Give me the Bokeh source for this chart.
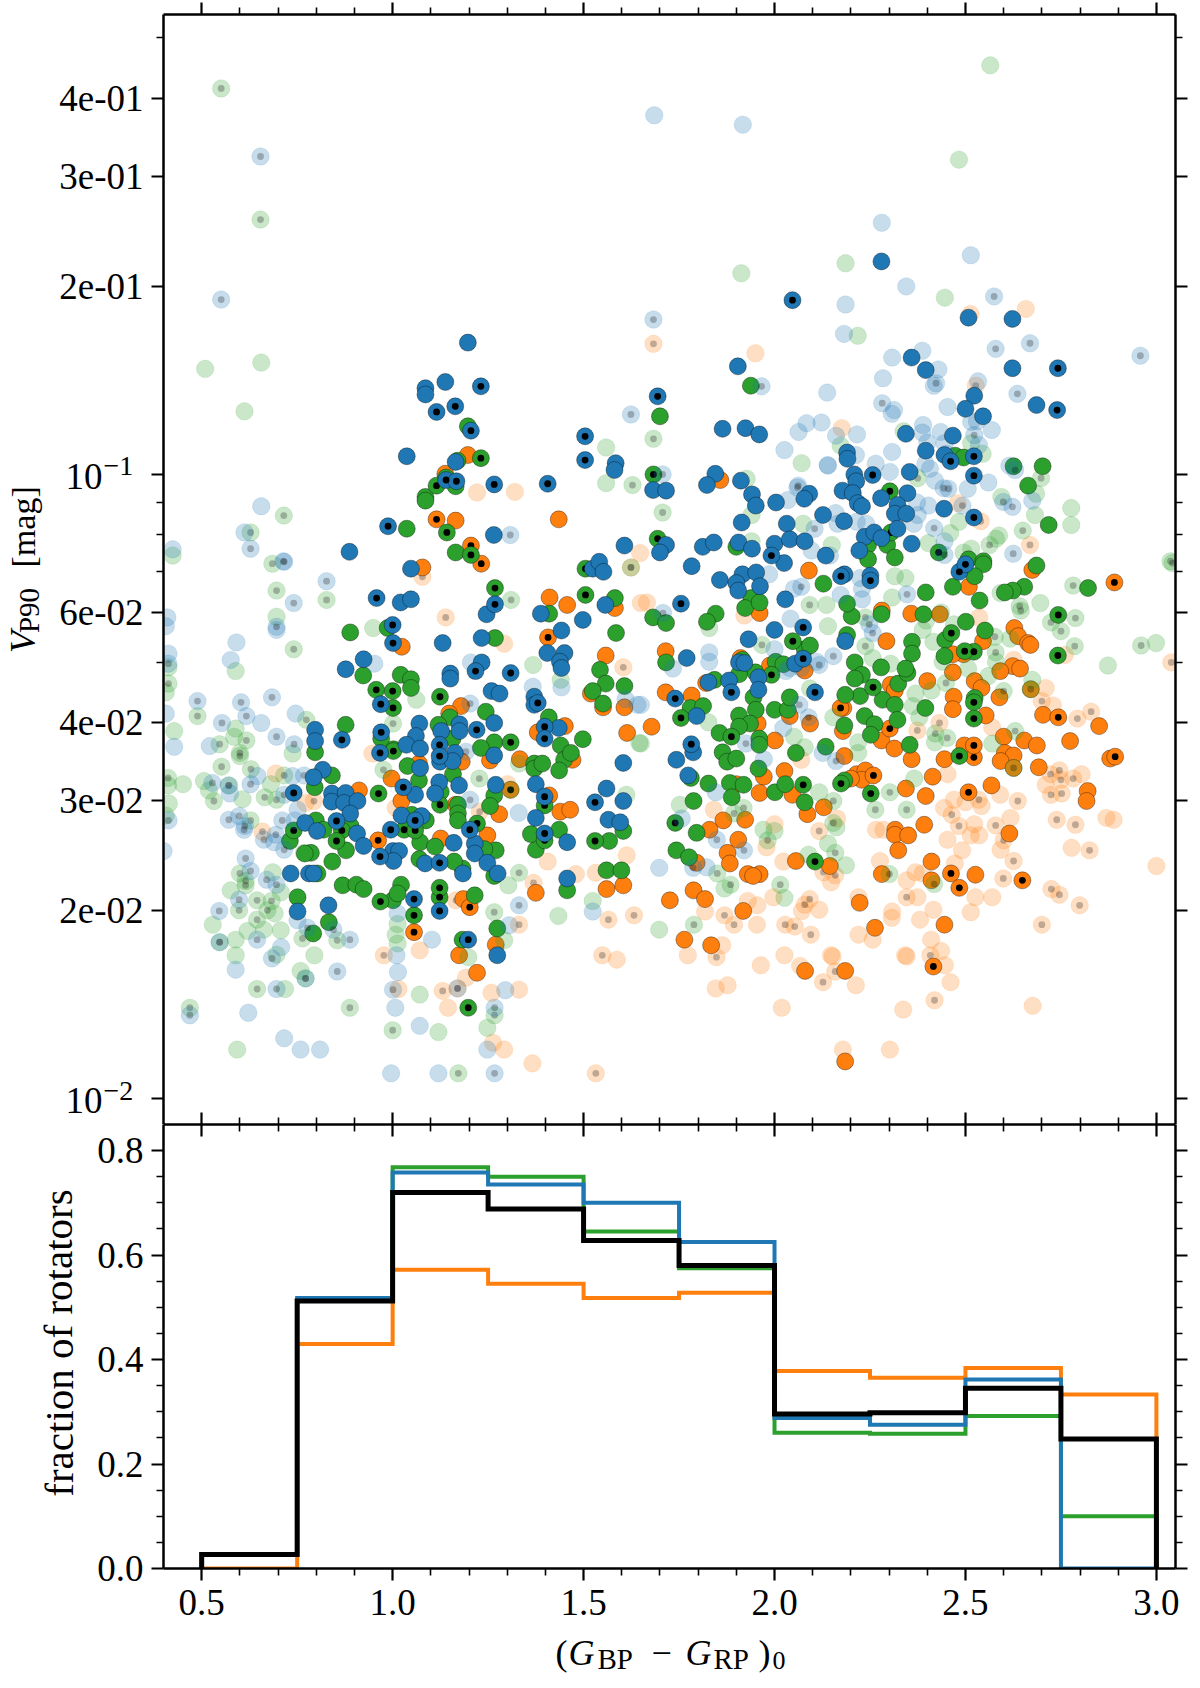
from bokeh.embed import file_html
from bokeh.resources import INLINE
from bokeh.plotting import figure
from bokeh.layouts import column, row
from bokeh.models import (FixedTicker, Range1d, LinearAxis, LogAxis, Label,
                          CustomJSTickFormatter, ColumnDataSource)

# each pair: (colour (G_BP-G_RP)_0, log10 V_P90)
blue_solid = [(1.197,-.789),(1.086,-.862),(1.086,-.872),(1.138,-.852),(1.037,-.971),(1.165,-.98),(1.265,-1.097),(.887,-1.124),
(2.28,-.659),(2.508,-.749),(2.623,-.751),(2.359,-.813),(1.904,-.827),(2.396,-.833),(2.623,-.83),(2.523,-.874),(2.686,-.889),(2.5,-.895),(2.546,-.907),(1.864,-.927),(1.924,-.926),(1.96,-.936),(2.344,-.935),(2.467,-.938),(2.19,-.965),(2.191,-.975),(2.396,-.962),(2.445,-.969),(1.584,-.982),(1.581,-.993),(1.845,-.999),(1.823,-1.017),(1.912,-1.01),(1.682,-1.025),(1.716,-1.026),(2.209,-1.0),(2.214,-1.011),(2.354,-.996),(2.091,-1.031),(2.078,-1.039),(1.941,-1.032),(1.951,-1.05),(2.004,-1.045),(2.178,-1.026),(2.205,-1.03),(2.218,-1.046),(2.229,-1.051),(2.279,-1.038),(2.348,-1.03),(2.322,-1.049),(2.315,-1.063),(2.345,-1.063),(2.444,-1.055),(1.914,-1.077),(2.032,-1.079),(2.127,-1.065),(2.182,-1.075),(1.716,-1.113),(1.7,-1.125),(1.607,-1.114),(1.812,-1.116),(1.841,-1.109),(1.906,-1.109),(1.941,-1.119),(2.0,-1.111),(2.04,-1.104),(2.079,-1.107),(2.025,-1.142),(2.134,-1.13),(2.236,-1.1),(2.261,-1.093),(2.28,-1.102),(2.322,-1.087),(2.222,-1.122),(2.359,-1.111),
(1.048,-1.151),(1.246,-1.224),(1.021,-1.205),(1.048,-1.2),(1.131,-1.27),(1.233,-1.262),(.797,-1.409),(.797,-1.427),(.817,-1.473),(.793,-1.485),(.841,-1.511),(.877,-1.51),(.84,-1.524),(.873,-1.526),(.908,-1.523),(.889,-1.543),(.771,-1.558),(.802,-1.571),(.907,-1.575),(.924,-1.595),(.733,-1.639),(.781,-1.639),(.793,-1.639),(.832,-1.69),(.751,-1.7),
(1.274,-1.77),(1.457,-1.647),(1.457,-1.589),(1.375,-1.55),(1.56,-1.503),(1.604,-1.523),(1.565,-1.553),(1.596,-1.557),(1.375,-1.496),(1.059,-1.513),(1.072,-1.47),(.924,-1.296),(.877,-1.312),(1.07,-1.399),(1.061,-1.419),(1.036,-1.433),(1.072,-1.439),(1.127,-1.411),(1.124,-1.46),(1.175,-1.4),(1.175,-1.411),(1.163,-1.446),(1.157,-1.459),(1.266,-1.398),(1.266,-1.45),(1.122,-1.493),(1.174,-1.498),(1.111,-1.511),(1.023,-1.546),(1.076,-1.547),(1.001,-1.603),(1.017,-1.603),(1.002,-1.619),(1.16,-1.59),(1.27,-1.497),(1.215,-1.591),(1.215,-1.607),(1.248,-1.622),(1.275,-1.639),(1.184,-1.639),(1.085,-1.623),
(1.557,-1.209),(1.388,-1.223),(1.498,-1.233),(1.442,-1.25),(1.405,-1.286),(1.45,-1.286),(1.438,-1.3),(1.442,-1.31),(1.233,-1.301),(1.151,-1.319),(1.151,-1.327),(1.259,-1.347),(1.28,-1.351),(1.371,-1.356),(1.371,-1.369),(1.435,-1.406),(1.604,-1.462),(1.524,-1.151),(1.541,-1.14),(1.552,-1.156),
(1.783,-1.147),(1.857,-1.169),(1.916,-1.16),(1.952,-1.157),(1.9,-1.174),(1.905,-1.186),(1.962,-1.179),(2.028,-1.2),(2.0,-1.249),(1.932,-1.264),(2.054,-1.303),(1.77,-1.294),(1.907,-1.301),(1.921,-1.302),(1.958,-1.325),(1.958,-1.345),(1.827,-1.333),(1.881,-1.33),(1.796,-1.387),(1.787,-1.445),(1.743,-1.457),(1.774,-1.482),(2.183,-1.16),(2.251,-1.162),(2.185,-1.267)]
blue_dotted = [(1.231,-.859),(1.164,-.891),(1.115,-.9),(1.205,-.93),(1.504,-.939),(1.504,-.977),(1.14,-1.009),(1.167,-1.011),(1.266,-1.016),(1.406,-1.015),(.988,-1.083),
(2.047,-.721),(2.742,-.83),(1.694,-.875),(2.74,-.897),(2.461,-.979),(2.522,-.971),(2.257,-1.001),(2.522,-1.002),(2.522,-1.069),(1.992,-1.13),
(1.268,-1.208),(.958,-1.198),(1.0,-1.241),(1.001,-1.27),(.867,-1.425),(.741,-1.51),(.853,-1.555),(.97,-1.413),(.967,-1.446),(1.056,-1.68),(1.123,-1.699),(1.198,-1.745),(1.398,-1.575),(1.53,-1.525),(1.398,-1.516),(1.028,-1.501),(.969,-1.368),(1.123,-1.433),(1.123,-1.451),(1.22,-1.409),(1.059,-1.554),(.995,-1.569),(.967,-1.612),(1.202,-1.569),(1.123,-1.622),(1.217,-1.315),(1.309,-1.318),(1.38,-1.366),(1.398,-1.404),(1.398,-1.423),
(1.755,-1.207),(2.075,-1.245),(2.075,-1.295),(1.887,-1.349),(1.74,-1.359),(1.782,-1.432),(2.106,-1.349),(2.174,-1.163),(2.251,-1.17),(2.484,-1.156),(2.5,-1.144)]
blue_faint = [(1.685,-.425),(1.917,-.44),(2.281,-.597),(2.514,-.649),(2.345,-.699),(2.186,-.728),(2.182,-.775),(2.387,-.802),(2.308,-.813),(2.429,-.832),(2.284,-.846),(2.417,-.858),(2.533,-.851),(2.138,-.869),(2.453,-.892),(2.313,-.897),(2.307,-.903),(2.123,-.917),(2.084,-.918),(2.515,-.916),(2.53,-.915),(2.389,-.921),(2.063,-.932),(2.569,-.929),(2.161,-.938),(2.216,-.936),(2.387,-.933),(2.435,-.932),(2.026,-.961),(2.4,-.949),(2.213,-.969),(2.308,-.964),(2.445,-.95),(2.535,-.953),(2.45,-.967),(2.139,-.985),(2.14,-.986),(2.265,-.983),(2.302,-.996),(2.395,-.983),(2.407,-.991),(2.035,-1.041),(2.373,-1.045),(2.403,-1.05),(2.42,-1.01),(2.506,-1.023),(2.56,-1.013),(2.615,-.986),(2.675,-1.042),(2.16,-1.062),(2.165,-1.079),(2.215,-1.076),(2.24,-1.079),(2.445,-1.107),(2.097,-1.122),(2.365,-1.079),(2.375,-1.065),(2.145,-1.13),
(.656,-1.051),(.612,-1.093),(.424,-1.12),
(.591,-1.269),(.576,-1.297),(.41,-1.229),(.406,-1.243),(.413,-1.287),(.406,-1.383),(.428,-1.436),(.952,-1.303),(.696,-1.249),(.656,-1.398),(.746,-1.383),(.521,-1.435),(.646,-1.483),(.738,-1.483),(.574,-1.511),(.4,-1.603),(.69,-1.589),(.751,-1.537),(.744,-1.554),(.751,-1.714),(.708,-1.757),(.589,-1.793),(.622,-1.862),(.716,-1.903),(.759,-1.921),(.81,-1.921),(.996,-1.959),(1.12,-1.959),(1.248,-1.921),(1.071,-1.883),(1.007,-1.854),(1.295,-1.826),(1.014,-1.797),(1.01,-1.77),(1.103,-1.745),(1.013,-1.703),(1.305,-1.722),(1.524,-1.7),(1.33,-1.542),(1.205,-1.301),(1.367,-1.34),(1.442,-1.341),(1.61,-1.36),(1.641,-1.369),
(1.65,-1.369),(1.986,-1.16),(1.829,-1.285),(1.829,-1.3),(1.734,-1.311),(2.042,-1.231),(2.0,-1.28),(1.972,-1.456),(1.846,-1.509),(1.757,-1.551),(1.698,-1.63),(1.822,-1.629),(2.224,-1.166),(2.229,-1.183),(2.229,-1.2),(2.051,-1.183),(2.173,-1.193),(2.126,-1.446),(2.023,-1.406),(2.04,-1.31),(2.11,-1.3),(2.07,-1.31),(2.03,-1.315)]
blue_faint_dotted = [(.654,-.491),(.551,-.72),(1.308,-1.097),(.628,-1.119),
(2.575,-.715),(1.683,-.752),(2.669,-.79),(2.579,-.799),(2.958,-.81),(2.423,-.854),(1.966,-.859),(2.636,-.871),(2.282,-.886),(1.624,-.904),(2.523,-.937),(1.707,-1.0),(2.06,-1.021),(2.062,-1.018),(2.443,-1.022),(2.455,-1.023),(2.492,-1.05),(2.63,-.993),(2.599,-1.044),(2.623,-1.052),(2.418,-1.086),(2.105,-1.087),(2.625,-1.127),(2.445,-1.129),(.714,-1.139),
(.716,-1.14),(.741,-1.206),(.827,-1.171),(.696,-1.244),(.489,-1.363),(.603,-1.365),(.617,-1.387),(.684,-1.357),(.553,-1.398),(.696,-1.42),(.742,-1.432),(.768,-1.482),(.628,-1.496),(.57,-1.498),(.528,-1.494),(.716,-1.513),(.413,-1.303),(.413,-1.554),(.571,-1.553),(.598,-1.547),(.613,-1.563),(.611,-1.569),(.663,-1.585),(.694,-1.577),(.711,-1.554),(.716,-1.601),(.615,-1.615),(.628,-1.635),(.67,-1.649),(.696,-1.657),(.598,-1.681),(.546,-1.699),(.645,-1.745),(.547,-1.749),(.684,-1.775),(.845,-1.729),(.777,-1.726),(.888,-1.745),(.772,-1.807),(.855,-1.796),(.696,-1.824),(.469,-1.866),(1.267,-1.959),(1.267,-1.854),(1.001,-1.825),(1.17,-1.823),(1.331,-1.69),(1.203,-1.367),(1.192,-1.444),(1.203,-1.521),
(1.708,-1.222),(1.925,-1.431),(1.849,-1.585),(1.92,-1.602),(1.787,-1.63),(2.07,-1.18),(2.154,-1.291),(2.117,-1.305),(2.065,-1.369),(2.089,-1.389),(2.161,-1.459),(2.248,-1.24),(2.257,-1.254),(2.347,-1.192)]
green_solid = [(1.197,-.923),(1.17,-.978),(1.14,-1.005),(1.165,-1.019),(1.086,-1.036),(1.086,-1.042),(1.037,-1.087),(1.165,-1.125),
(1.938,-.858),(1.7,-.907),(2.473,-.97),(2.495,-.973),(2.626,-.987),(2.702,-.987),(2.664,-1.018),(2.718,-1.081),(1.9,-1.116),(2.295,-1.113),(2.245,-1.113),(2.315,-1.133),(2.245,-1.136),(2.508,-1.136),(2.547,-1.139),
(1.268,-1.262),(.987,-1.246),(.889,-1.253),(.797,-1.445),(.877,-1.401),(.841,-1.482),(.796,-1.501),(.799,-1.554),(.819,-1.569),(.89,-1.563),(.878,-1.602),(.842,-1.62),(.786,-1.606),(.77,-1.607),(.803,-1.639),(.869,-1.658),(.905,-1.657),(.924,-1.664),(.751,-1.677),(.833,-1.717),(.792,-1.735),(.731,-1.587),
(1.001,-1.682),(1.022,-1.657),(1.013,-1.671),(1.215,-1.674),(1.274,-1.727),(1.457,-1.666),(1.56,-1.634),(1.599,-1.634),(1.567,-1.587),(1.375,-1.601),(1.362,-1.576),(1.436,-1.569),(1.604,-1.571),(1.371,-1.463),(1.371,-1.471),(1.392,-1.463),(1.069,-1.49),(1.039,-1.467),(1.002,-1.44),(.97,-1.423),(1.021,-1.321),(1.048,-1.328),(1.048,-1.342),(.923,-1.322),(1.15,-1.389),(1.12,-1.401),(1.157,-1.423),(1.244,-1.38),(1.266,-1.429),(1.231,-1.438),(1.158,-1.48),(1.126,-1.508),(1.087,-1.554),(1.05,-1.545),(1.072,-1.589),(1.111,-1.596),(1.171,-1.529),(1.171,-1.543),(1.171,-1.554),(1.266,-1.514),(1.255,-1.531),(1.27,-1.602),(1.24,-1.6),(1.266,-1.643),(1.183,-1.631),(1.161,-1.62),(1.07,-1.616),
(1.582,-1.198),(1.41,-1.223),(1.585,-1.254),(1.543,-1.313),(1.558,-1.335),(1.607,-1.339),(1.524,-1.347),(1.551,-1.367),(1.409,-1.389),(1.498,-1.424),(1.44,-1.434),(1.449,-1.457),(1.467,-1.446),(1.436,-1.474),
(1.682,-1.229),(1.716,-1.238),(1.846,-1.223),(1.823,-1.236),(1.939,-1.198),(1.923,-1.214),(1.961,-1.205),(2.079,-1.28),(2.093,-1.274),(1.716,-1.301),(1.916,-1.297),(2.003,-1.3),(2.023,-1.304),(1.95,-1.317),(1.907,-1.32),(1.843,-1.329),(1.78,-1.374),(1.813,-1.371),(1.945,-1.357),(2.0,-1.377),(2.035,-1.377),(1.951,-1.377),(1.907,-1.386),(1.936,-1.399),(1.907,-1.404),(1.856,-1.414),(1.864,-1.445),(1.876,-1.46),(1.9,-1.455),(1.96,-1.423),(1.96,-1.433),(2.056,-1.446),(2.134,-1.436),(1.958,-1.471),(1.781,-1.486),(1.827,-1.495),(1.883,-1.494),(1.919,-1.497),(1.888,-1.517),(2.001,-1.509),(2.028,-1.496),(1.788,-1.523),(2.079,-1.525),(1.796,-1.574),(1.743,-1.602),(1.776,-1.613),
(2.396,-1.189),(2.467,-1.18),(2.537,-1.202),(2.547,-1.144),(2.524,-1.163),(2.39,-1.224),(2.501,-1.236),(2.447,-1.265),(2.551,-1.25),(2.36,-1.268),(2.36,-1.287),(2.28,-1.224),(2.202,-1.227),(2.19,-1.207),(2.19,-1.257),(2.128,-1.175),(2.686,-1.146),(2.654,-1.18),(2.624,-1.186),(2.603,-1.189),(2.821,-1.182),(2.445,-1.291),(2.524,-1.358),(2.395,-1.374),(2.324,-1.335),(2.348,-1.318),(2.343,-1.311),(2.279,-1.309),(2.21,-1.301),(2.229,-1.321),(2.224,-1.355),(2.185,-1.353),(2.04,-1.357),(2.183,-1.402),(2.236,-1.387),(2.262,-1.4),(2.252,-1.417),(2.283,-1.361),(2.315,-1.369),(2.322,-1.393),(2.354,-1.433),(2.21,-1.327),(2.183,-1.49)]
green_dotted = [(1.231,-.974),(1.115,-1.018),(1.142,-1.093),(1.205,-1.129),
(1.683,-1.0),(2.302,-1.027),(1.694,-1.103),(2.305,-1.093),(2.43,-1.125),
(1.268,-1.182),(.741,-1.57),(.867,-1.57),(.853,-1.587),(.968,-1.684),(1.056,-1.706),(1.123,-1.677),(1.123,-1.662),(1.198,-1.854),(1.183,-1.745),(1.53,-1.587),(1.398,-1.586),(1.398,-1.53),(.963,-1.511),(1.002,-1.443),(1.001,-1.374),(.957,-1.345),(1.0,-1.347),(1.124,-1.356),(1.309,-1.429),(1.124,-1.529),(1.03,-1.569),(1.059,-1.57),(1.221,-1.559),(1.505,-1.193),(1.505,-1.151),
(2.048,-1.267),(1.992,-1.321),(1.755,-1.39),(1.887,-1.42),(2.075,-1.497),(1.74,-1.558),(2.252,-1.511),(2.106,-1.62),(2.484,-1.451),(2.522,-1.284),(2.498,-1.283),(2.522,-1.365),(2.522,-1.391),(2.258,-1.341),(2.174,-1.495),(2.743,-1.225),(2.742,-1.29),(2.463,-1.254)]
green_faint = [(.509,-.831),(.656,-.821),(.612,-.899),(.424,-1.13),
(2.565,-.345),(2.483,-.496),(2.186,-.662),(1.913,-.678),(2.446,-.717),(2.218,-.778),(2.338,-.931),(1.559,-.957),(2.173,-.954),(2.515,-.95),(2.071,-.982),(1.927,-1.007),(1.559,-1.014),(2.545,-.967),(2.685,-1.031),(2.594,-1.036),(2.777,-1.054),(2.777,-1.081),(2.682,-1.065),(2.483,-1.076),(2.46,-1.094),(2.588,-1.098),(2.58,-1.103),(1.94,-1.065),(2.075,-1.079),(1.94,-1.107),(2.15,-1.113),(2.403,-1.11),(2.495,-1.125),(2.515,-1.119),
(.949,-1.246),(.589,-1.315),(.696,-1.228),(.413,-1.309),(.406,-1.349),(.428,-1.411),(.738,-1.447),(.589,-1.407),(.585,-1.42),(.412,-1.498),(.414,-1.527),(.681,-1.496),(.506,-1.491),(.519,-1.506),(.607,-1.52),(.451,-1.496),(.406,-1.546),(1.062,-1.361),
(.576,-1.666),(.686,-1.637),(.707,-1.669),(.691,-1.703),(.529,-1.721),(.62,-1.731),(.663,-1.729),(.707,-1.73),(.589,-1.745),(.589,-1.77),(.696,-1.769),(.795,-1.77),(.759,-1.795),(.718,-1.824),(.593,-1.921),(1.248,-1.886),(1.12,-1.893),(1.071,-1.833),(1.013,-1.751),(1.008,-1.737),(1.013,-1.72),(1.303,-1.658),(1.292,-1.746),(1.198,-1.773),(1.524,-1.683),(1.434,-1.707),(1.368,-1.305),(1.44,-1.329),(1.612,-1.513),(1.331,-1.463),(1.646,-1.43),
(1.65,-1.431),(1.829,-1.246),(1.827,-1.397),(1.752,-1.529),(1.869,-1.663),(1.698,-1.729),(2.026,-1.678),(2.089,-1.609),(2.187,-1.626),(2.14,-1.591),(1.971,-1.569),(2.0,-1.571),(2.162,-1.565),(2.117,-1.509),(2.366,-1.487),(2.675,-1.329),(2.56,-1.323),(2.617,-1.263),(2.696,-1.206),(2.999,-1.27),(2.873,-1.306),(2.57,-1.431),(2.42,-1.429),(2.379,-1.389),(2.362,-1.371),(2.369,-1.351),(2.411,-1.346),(2.507,-1.311),(2.136,-1.209),(2.315,-1.163),(2.343,-1.166),(2.592,-1.19),(2.14,-1.243),(2.397,-1.234),(2.388,-1.249),(2.416,-1.268),(2.436,-1.221),(2.308,-1.197),(2.257,-1.294),(2.304,-1.303),(2.093,-1.343),(2.154,-1.389),(2.051,-1.42),(2.079,-1.437),(2.219,-1.429),(2.219,-1.446),(2.44,-1.3),(2.47,-1.24),(2.58,-1.3)]
green_faint_dotted = [(.551,-.382),(.654,-.592),(.715,-1.066),(.628,-1.093),
(1.683,-.943),(1.628,-1.017),(2.375,-1.006),(2.698,-1.006),(2.65,-1.09),(2.563,-1.113),(1.707,-1.061),(3.037,-1.139),
(.696,-1.186),(.827,-1.201),(.685,-1.143),(.741,-1.28),(.413,-1.335),(.489,-1.387),(.774,-1.393),(.617,-1.426),(.547,-1.432),(.6,-1.446),(.6,-1.451),(.552,-1.468),(.629,-1.472),(.716,-1.482),(.572,-1.498),(.532,-1.523),(.665,-1.517),(.696,-1.521),(.412,-1.486),(.628,-1.554),(.768,-1.606),(.6,-1.639),(.615,-1.651),(.615,-1.658),(.598,-1.698),(.645,-1.682),(.683,-1.683),(.672,-1.698),(.645,-1.713),(.547,-1.749),(.764,-1.743),(.855,-1.746),(.772,-1.807),(.645,-1.824),(.469,-1.854),(.888,-1.854),(1.172,-1.959),(1.267,-1.866),(1.0,-1.89),(1.266,-1.701),(1.331,-1.638),(.976,-1.473),(1.001,-1.399),(1.227,-1.487),(1.31,-1.201),(1.624,-1.149),(1.309,-1.505),
(1.967,-1.273),(1.894,-1.543),(1.919,-1.534),(1.85,-1.639),(1.885,-1.657),(1.789,-1.721),(2.015,-1.657),(2.159,-1.606),(1.982,-1.586),(2.154,-1.558),(2.154,-1.523),(2.302,-1.509),(2.346,-1.537),(2.264,-1.537),(2.301,-1.64),(2.418,-1.656),(2.671,-1.344),(2.6,-1.347),(2.579,-1.285),(2.577,-1.26),(2.645,-1.218),(2.642,-1.211),(2.782,-1.178),(2.788,-1.23),(2.724,-1.237),(2.75,-1.251),(2.786,-1.275),(2.96,-1.274),(3.042,-1.142),(2.63,-1.411),(2.452,-1.422),(2.421,-1.415),(2.449,-1.334),(2.092,-1.209),(2.238,-1.275),(2.238,-1.229),(2.626,-1.47)]
orange_solid = [(1.197,-.969),(1.138,-.999),(1.165,-1.074),(1.435,-1.072),(1.858,-1.009),
(1.078,-1.149),(1.024,-1.276),(1.221,-1.798),(1.27,-1.753),(1.174,-1.77),(1.375,-1.67),(1.56,-1.664),(1.604,-1.658),(1.439,-1.54),(1.465,-1.537),(1.41,-1.514),(1.333,-1.456),(.912,-1.506),(.997,-1.487),(1.069,-1.463),(1.179,-1.371),(1.148,-1.383),(1.181,-1.46),(1.255,-1.458),(1.023,-1.523),(1.165,-1.529),(1.279,-1.544),(1.248,-1.578),(1.126,-1.583),(1.185,-1.68),
(1.411,-1.197),(1.457,-1.209),(1.582,-1.214),(1.558,-1.29),(1.519,-1.351),(1.551,-1.373),(1.607,-1.373),(1.451,-1.403),(1.614,-1.414),(1.38,-1.413),(1.471,-1.457),
(1.961,-1.222),(1.715,-1.283),(1.911,-1.294),(1.988,-1.306),(2.079,-1.314),(1.821,-1.334),(1.715,-1.349),(1.783,-1.354),(1.678,-1.404),(2.04,-1.387),(1.956,-1.399),(2.001,-1.426),(2.026,-1.475),(1.972,-1.484),(1.9,-1.496),(1.961,-1.51),(2.047,-1.513),(2.086,-1.544),(2.129,-1.533),(1.866,-1.554),(1.923,-1.553),(1.83,-1.569),(1.905,-1.585),(1.877,-1.606),(1.883,-1.623),(1.796,-1.622),(1.93,-1.64),(1.961,-1.64),(1.944,-1.643),(1.788,-1.666),(1.818,-1.68),(1.726,-1.682),(1.918,-1.699),(1.764,-1.745),(1.834,-1.754),(2.08,-1.795),(2.185,-1.795),(2.263,-1.726),(2.223,-1.686),(2.445,-1.721),(2.615,-1.575),(2.568,-1.498),(2.392,-1.561),(2.396,-1.515),(2.344,-1.503),(2.414,-1.484),(2.445,-1.456),(2.497,-1.434),(2.6,-1.42),(2.603,-1.446),(2.626,-1.45),(2.592,-1.459),(2.626,-1.47),(2.654,-1.426),(2.687,-1.434),(2.692,-1.469),(2.774,-1.427),(2.703,-1.385),(2.85,-1.403),(2.879,-1.455),(2.82,-1.507),(2.817,-1.523),(2.411,-1.62),(2.411,-1.65),(2.526,-1.641),(2.185,-1.94),(2.056,-1.619),(2.145,-1.627),(2.316,-1.569),(2.315,-1.577),(2.35,-1.578),(2.324,-1.602),(2.281,-1.64),(2.671,-1.344),(2.624,-1.307),(2.643,-1.311),(2.591,-1.315),(2.589,-1.357),(2.628,-1.246),(2.638,-1.259),(2.664,-1.27),(2.67,-1.273),(2.675,-1.153),(2.495,-1.288),(2.467,-1.288),(2.467,-1.317),(2.524,-1.331),(2.542,-1.342),(2.553,-1.386),(2.469,-1.356),(2.467,-1.376),(2.4,-1.331),(2.304,-1.337),(2.315,-1.346),(2.18,-1.374),(2.093,-1.399),(2.179,-1.411),(2.28,-1.426),(2.314,-1.439),(2.183,-1.451),(2.359,-1.456),(2.215,-1.48),(2.238,-1.474),(2.229,-1.489),(2.2,-1.487),(2.09,-1.154),(2.358,-1.223),(2.433,-1.224),(2.509,-1.18),(2.546,-1.267),(2.293,-1.267),(2.281,-1.218)]
orange_dotted = [(1.115,-1.072),(1.205,-1.114),(1.232,-1.143),(.962,-1.586),(1.056,-1.733),(1.202,-1.693),(1.407,-1.261),(1.309,-1.505),
(2.743,-1.389),(2.892,-1.452),(2.508,-1.509),(2.522,-1.453),(2.522,-1.434),(2.649,-1.65),(2.462,-1.639),(2.484,-1.662),(2.416,-1.788),(2.302,-1.407),(2.259,-1.482),(2.89,-1.173),(2.173,-1.374)]
orange_faint = [(1.221,-1.029),(1.32,-1.028),(1.648,-1.126),
(2.658,-.735),(2.513,-.743),(1.95,-.806),(2.176,-.926),(2.48,-1.046),
(1.292,-1.271),(.694,-1.479),(.772,-1.526),(.947,-1.447),(1.008,-1.534),(1.366,-1.943),(1.292,-1.921),(1.263,-1.91),(1.145,-1.854),(1.192,-1.806),(1.259,-1.83),(1.331,-1.825),(1.015,-1.824),(1.071,-1.762),(1.587,-1.777),(1.48,-1.64),(1.406,-1.62),(1.532,-1.638),(1.613,-1.61),(1.65,-1.206),(1.301,-1.496),
(1.666,-1.205),(1.921,-1.226),(1.841,-1.537),(1.818,-1.7),(1.93,-1.683),(1.955,-1.69),(1.954,-1.721),(1.863,-1.754),(1.773,-1.77),(1.964,-1.786),(1.846,-1.823),(1.877,-1.818),(2.019,-1.854),(1.997,-1.677),(2.072,-1.699),(2.117,-1.697),(2.026,-1.77),(2.067,-1.787),(2.148,-1.77),(2.152,-1.772),(2.213,-1.818),(2.22,-1.737),(2.257,-1.745),(2.22,-1.677),(2.308,-1.7),(2.307,-1.71),(2.374,-1.677),(2.381,-1.713),(2.416,-1.697),(2.514,-1.701),(2.526,-1.677),(2.57,-1.677),(2.676,-1.851),(2.592,-1.601),(2.618,-1.55),(2.591,-1.513),(2.542,-1.531),(2.523,-1.56),(2.514,-1.578),(2.536,-1.578),(2.444,-1.534),(2.47,-1.521),(2.5,-1.525),(2.179,-1.921),(2.302,-1.921),(2.337,-1.857),(2.461,-1.813),(2.446,-1.786),(2.436,-1.763),(2.41,-1.745),(2.342,-1.77),(2.346,-1.772),(2.148,-1.653),(2.023,-1.62),(1.979,-1.597),(2.0,-1.56),(2.164,-1.551),(2.266,-1.569),(2.285,-1.569),(2.276,-1.619),(2.346,-1.65),(2.369,-1.637),(2.388,-1.639),(2.472,-1.623),(2.491,-1.602),(2.453,-1.585),(2.804,-1.48),(2.71,-1.497),(2.869,-1.55),(2.888,-1.553),(2.778,-1.598),(3.0,-1.627),(2.729,-1.37),(2.71,-1.342),(2.626,-1.297),(2.76,-1.289),(2.453,-1.48),(2.57,-1.405),(2.536,-1.229),(2.07,-1.457)]
orange_faint_dotted = [(1.683,-.791),(2.527,-.858),(2.54,-1.075),(2.669,-1.113),
(1.078,-1.164),(1.139,-1.229),(.794,-1.523),(.659,-1.572),(.977,-1.77),(1.131,-1.827),(1.17,-1.823),(1.166,-1.682),(1.331,-1.721),(1.532,-1.959),(1.549,-1.77),(1.565,-1.713),(1.632,-1.706),(1.369,-1.654),(1.604,-1.309),(1.228,-1.54),(1.624,-1.149),
(1.869,-1.706),(1.894,-1.721),(1.848,-1.773),(2.028,-1.721),(2.053,-1.724),(2.095,-1.737),(2.092,-1.68),(2.079,-1.689),(2.159,-1.796),(2.127,-1.813),(2.346,-1.677),(2.599,-1.647),(2.725,-1.664),(2.746,-1.673),(2.799,-1.69),(2.7,-1.721),(2.626,-1.619),(2.6,-1.586),(2.579,-1.562),(2.637,-1.523),(2.535,-1.521),(2.483,-1.563),(2.464,-1.545),(2.419,-1.842),(2.408,-1.77),(2.159,-1.642),(2.128,-1.637),(2.117,-1.571),(2.723,-1.48),(2.746,-1.474),(2.75,-1.489),(2.782,-1.487),(2.724,-1.513),(2.752,-1.511),(2.739,-1.553),(2.788,-1.561),(2.825,-1.602),(2.793,-1.391),(2.829,-1.38),(2.7,-1.363),(3.039,-1.301),(2.432,-1.398),(2.374,-1.41)]

# fraction of rotators per colour bin
bin_edges = [0.5, 0.75, 1.0, 1.25, 1.5, 1.75, 2.0, 2.25, 2.5, 2.75, 3.0]
frac_orange = [0.0, 0.43, 0.572, 0.545, 0.518, 0.528, 0.378, 0.365, 0.384, 0.333]
frac_green = [0.027, 0.512, 0.768, 0.75, 0.645, 0.575, 0.26, 0.258, 0.292, 0.10]
frac_blue = [0.027, 0.518, 0.758, 0.735, 0.70, 0.625, 0.288, 0.275, 0.362, 0.0]
frac_black = [0.027, 0.512, 0.72, 0.688, 0.628, 0.58, 0.296, 0.298, 0.345, 0.248]

x_major = [0.5, 1.0, 1.5, 2.0, 2.5, 3.0]
x_minor = [0.6,0.7,0.8,0.9,1.1,1.2,1.3,1.4,1.6,1.7,1.8,1.9,2.1,2.2,2.3,2.4,2.6,2.7,2.8,2.9]
v_major = [0.4, 0.3, 0.2, 0.1, 0.06, 0.04, 0.03, 0.02, 0.01]
v_minor = [0.5, 0.09, 0.08, 0.07, 0.05]
v_labels = {0.4: "4e-01", 0.3: "3e-01", 0.2: "2e-01", 0.06: "6e-02", 0.04: "4e-02", 0.03: "3e-02", 0.02: "2e-02"}
v_decades = {0.1: "\u22121", 0.01: "\u22122"}
f_major = [0.0, 0.2, 0.4, 0.6, 0.8]
f_minor = [0.05,0.1,0.15,0.25,0.3,0.35,0.45,0.5,0.55,0.65,0.7,0.75]

SERIF = "Liberation Serif"
BLUE, ORANGE, GREEN = "#1f77b4", "#ff7f0e", "#2ca02c"
V_RANGE = (0.0091, 0.545)
blank = CustomJSTickFormatter(code="return ''")

def style(ax, outm=12, inm=0, outn=7, inn=0):
    ax.axis_line_width = 2.5
    ax.axis_line_color = "black"
    ax.major_tick_line_width = 2.2
    ax.minor_tick_line_width = 1.6
    ax.major_tick_line_color = "black"
    ax.minor_tick_line_color = "black"
    ax.major_tick_out, ax.major_tick_in = outm, inm
    ax.minor_tick_out, ax.minor_tick_in = outn, inn
    ax.major_label_text_color = "black"
    ax.axis_label = None

def strip(w, h):
    """A bare panel whose range is its own pixel grid, to hold the label pieces."""
    s = figure(width=w, height=h, output_backend="svg", toolbar_location=None,
               x_range=Range1d(0, w), y_range=Range1d(h, 0),
               x_axis_location=None, y_axis_location=None,
               min_border=0, outline_line_color=None, border_fill_color=None,
               background_fill_color=None)
    s.grid.visible = False
    return s

def lab(fig, text, x, y, size, angle=0.0, italic=False, align="left", base="middle"):
    fig.add_layout(Label(x=x, y=y, text=text, angle=angle, text_font=SERIF,
                         text_font_size=f"{size}px", text_align=align, text_baseline=base,
                         text_font_style="italic" if italic else "normal", text_color="black"))

W = 1192
UP_STRIP = 150
LOW_STRIP = 86
p1 = figure(width=W - UP_STRIP, height=1124, output_backend="svg", toolbar_location=None, y_axis_type="log",
            x_range=Range1d(0.4, 3.05), y_range=Range1d(*V_RANGE),
            min_border_left=163 - UP_STRIP, min_border_right=17, min_border_top=14, min_border_bottom=0,
            background_fill_color="white", border_fill_color=None, outline_line_color=None)
p1.grid.visible = False

vt = FixedTicker(ticks=v_major, minor_ticks=v_minor)
xt = FixedTicker(ticks=x_major, minor_ticks=x_minor)
ft = FixedTicker(ticks=f_major, minor_ticks=f_minor)

def cloud(points, color, alpha, with_dot, solid):
    src = ColumnDataSource(dict(x=[a for a, b in points], y=[10 ** b for a, b in points]))
    if solid:
        p1.scatter("x", "y", source=src, size=17, fill_color=color, line_color="black", line_width=0.5, line_alpha=0.7)
    else:
        p1.scatter("x", "y", source=src, size=17.5, fill_color=color, fill_alpha=alpha, line_color=color, line_alpha=alpha, line_width=0.5)
    if with_dot:
        p1.scatter("x", "y", source=src, size=6.8, fill_color="black", line_color=None, fill_alpha=1 if solid else 0.25)

for col, sol, dot, fai, fdot in [
    (ORANGE, orange_solid, orange_dotted, orange_faint, orange_faint_dotted),
    (GREEN, green_solid, green_dotted, green_faint, green_faint_dotted),
    (BLUE, blue_solid, blue_dotted, blue_faint, blue_faint_dotted)]:
    cloud(fai, col, 0.25, False, False)
    cloud(fdot, col, 0.25, True, False)
    cloud(sol, col, 1, False, True)
    cloud(dot, col, 1, True, True)

la = p1.yaxis[0]
la.ticker = vt
la.formatter = blank
style(la)
la.major_label_standoff = 0
la.major_label_text_font_size = "0px"
ba = p1.xaxis[0]
ba.ticker = xt
ba.formatter = blank
style(ba, 0, 12, 0, 7)
ba.major_label_standoff = 0
ba.major_label_text_font_size = "0px"
ra = LogAxis(ticker=vt, formatter=blank)
style(ra)
ra.major_label_standoff = 0
ra.major_label_text_font_size = "0px"
p1.add_layout(ra, "right")
ta = LinearAxis(ticker=xt, formatter=blank)
style(ta)
ta.major_label_standoff = 0
ta.major_label_text_font_size = "0px"
p1.add_layout(ta, "above")

# left label panel of the upper plot: same log range and same frame height as the plot
s_up = figure(width=UP_STRIP, height=1124, output_backend="svg", toolbar_location=None, y_axis_type="log",
              x_range=Range1d(0, UP_STRIP), y_range=Range1d(*V_RANGE),
              x_axis_location=None, y_axis_location=None,
              min_border_left=0, min_border_right=0, min_border_top=14, min_border_bottom=0,
              outline_line_color=None, border_fill_color=None, background_fill_color=None)
s_up.grid.visible = False
for v, text in v_labels.items():
    lab(s_up, text, 143, v, 37, align="right")
for v, text in v_decades.items():
    lab(s_up, "10", 65, v * 10 ** -0.003, 37)
    lab(s_up, text, 103, v * 10 ** 0.0128, 28)
lab(s_up, "V", 22.6, 10 ** -1.286, 36, angle=1.5708, italic=True)
lab(s_up, "P90", 28.9, 10 ** -1.254, 29, angle=1.5708)
lab(s_up, "[mag]", 23.4, 10 ** -1.149, 34, angle=1.5708)

p2 = figure(width=W - LOW_STRIP, height=510, output_backend="svg", toolbar_location=None,
            x_range=Range1d(0.4, 3.05), y_range=Range1d(0.0, 0.85),
            min_border_left=163 - LOW_STRIP, min_border_right=17, min_border_top=0, min_border_bottom=66,
            background_fill_color="white", border_fill_color=None, outline_line_color=None)
p2.grid.visible = False

for col, vals, lw in [(ORANGE, frac_orange, 4), (GREEN, frac_green, 4), (BLUE, frac_blue, 4), ("black", frac_black, 5)]:
    p2.step([bin_edges[0]] + bin_edges, [0.0] + vals + [0.0], mode="after", line_color=col,
            line_width=lw, line_join="miter")

la2 = p2.yaxis[0]
la2.ticker = ft
style(la2)
la2.major_label_text_font = SERIF
la2.major_label_text_font_size = "37px"
la2.major_label_standoff = 8
la2.formatter = CustomJSTickFormatter(code="return tick.toFixed(1)")
ba2 = p2.xaxis[0]
ba2.ticker = xt
style(ba2)
ba2.major_label_text_font = SERIF
ba2.major_label_text_font_size = "37px"
ba2.major_label_standoff = 9
ba2.formatter = CustomJSTickFormatter(code="return tick.toFixed(1)")
ra2 = LinearAxis(ticker=ft, formatter=blank)
style(ra2)
ra2.major_label_standoff = 0
ra2.major_label_text_font_size = "0px"
p2.add_layout(ra2, "right")
ta2 = LinearAxis(ticker=xt, formatter=blank)
style(ta2, 0, 12, 0, 7)
ta2.major_label_standoff = 0
ta2.major_label_text_font_size = "0px"
p2.add_layout(ta2, "above")

s_low = strip(LOW_STRIP, 510)
lab(s_low, "fraction of rotators", 58, 251, 41, angle=1.5708, align="center")

s_bot = strip(W, 50)
lab(s_bot, "(", 555, 18.6, 36)
lab(s_bot, "G", 568, 18.6, 36, italic=True)
lab(s_bot, "BP", 597, 24, 29)
lab(s_bot, "\u2212", 651, 18.6, 36)
lab(s_bot, "G", 685, 18.6, 36, italic=True)
lab(s_bot, "RP", 713, 24, 29)
lab(s_bot, ")", 758, 18.6, 36)
lab(s_bot, "0", 772, 25.6, 26)

page = column(row(s_up, p1, spacing=0), row(s_low, p2, spacing=0), s_bot, spacing=0)
open("out.html", "w").write(file_html(page, INLINE))
